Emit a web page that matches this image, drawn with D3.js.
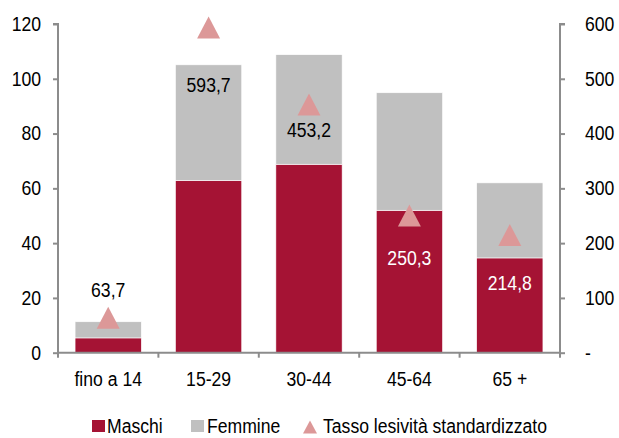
<!DOCTYPE html>
<html>
<head>
<meta charset="utf-8">
<script src="https://cdn.jsdelivr.net/npm/d3@7"></script>
<style>
  body { margin: 0; background: #fff; }
  svg text { font-family: "Liberation Sans", Arial, sans-serif; fill: #000; }
</style>
</head>
<body>
<svg id="chart" width="619" height="438"></svg>
<script>
// age classes and values
var categories = ["fino a 14", "15-29", "30-44", "45-64", "65 +"];
var maschi   = [5.4, 62.9, 68.8, 52.0, 34.6];
var femmine  = [5.9, 42.2, 40.0, 42.9, 27.4];
var tasso    = [63.7, 593.7, 453.2, 250.3, 214.8];
var leftTicks  = [0, 20, 40, 60, 80, 100, 120];
var rightTicks = [0, 100, 200, 300, 400, 500, 600];

var colMaschi = "#a51334", colFemmine = "#c0c0c0", colTasso = "#dc9898", axisCol = "#8c8c8c";
var fontSize = 20, squeezeK = 0.88; // the original font is a narrow one

var svg = d3.select("#chart");
var m = { left: 58, right: 560, top: 24, bottom: 352.7 };

var x = d3.scaleBand().domain(categories).range([m.left, m.right]).paddingInner(0.34).paddingOuter(0.17);
var yL = d3.scaleLinear().domain([0, 120]).range([m.bottom, m.top]);
var yR = d3.scaleLinear().domain([0, 600]).range([m.bottom, m.top]);

// stacked bars
var rows = categories.map(function(c, i) { return { cat: c, m: maschi[i], f: femmine[i] }; });
var stack = d3.stack().keys(["m", "f"])(rows);
var colors = { m: colMaschi, f: colFemmine };

svg.append("g").selectAll("g").data(stack).join("g")
    .attr("fill", function(d) { return colors[d.key]; })
  .selectAll("rect").data(function(d) { return d; }).join("rect")
    .attr("x", function(d) { return x(d.data.cat); })
    .attr("width", x.bandwidth())
    .attr("y", function(d) { return yL(d[1]); })
    .attr("height", function(d) { return yL(d[0]) - yL(d[1]); })
    .attr("stroke", "#fff").attr("stroke-width", 0.6);

// axes
var left = svg.append("g").attr("transform", "translate(" + m.left + ",0)")
    .call(d3.axisLeft(yL).tickValues(leftTicks).tickSize(5).tickPadding(12));
var right = svg.append("g").attr("transform", "translate(" + m.right + ",0)")
    .call(d3.axisRight(yR).tickValues(rightTicks).tickSize(5).tickPadding(20)
      .tickFormat(function(d) { return d === 0 ? "-" : d; }));
var bottom = svg.append("g").attr("transform", "translate(0," + m.bottom + ")")
    .call(d3.axisBottom(x).tickSize(0).tickPadding(19));

// category boundaries as ticks on x axis
var bounds = d3.range(categories.length + 1).map(function(i) { return m.left + i * x.step(); });
bottom.selectAll(".bnd").data(bounds).join("line").attr("class", "bnd")
    .attr("x1", function(d) { return d; }).attr("x2", function(d) { return d; })
    .attr("y1", 0).attr("y2", 5);

[left, right, bottom].forEach(function(g) {
  g.select(".domain").attr("stroke", axisCol).attr("stroke-width", 2);
  g.selectAll("line").attr("stroke", axisCol).attr("stroke-width", 2);
  g.selectAll("text").attr("font-size", fontSize).attr("fill", "#000");
});
left.select(".domain").attr("d", "M-5," + m.top + "H0V" + m.bottom);
right.select(".domain").attr("d", "M5," + m.top + "H0V" + m.bottom);
bottom.select(".domain").attr("d", "M" + m.left + ",0H" + m.right);

// triangles for tasso (a bit taller than equilateral)
function triPath(w, h) { return "M0," + (-h / 2) + "L" + (w / 2) + "," + (h / 2) + "L" + (-w / 2) + "," + (h / 2) + "Z"; }
svg.append("g").selectAll("path").data(tasso).join("path")
    .attr("d", triPath(23, 22))
    .attr("fill", colTasso)
    .attr("transform", function(d, i) {
      return "translate(" + (x(categories[i]) + x.bandwidth() / 2) + "," + yR(d) + ")";
    });

// value labels, placed by hand like the original
var labelDy = [-28, 58, 26, 42, 48];
var labelFill = ["#000", "#000", "#000", "#fff", "#fff"];
svg.append("g").selectAll("text").data(tasso).join("text")
    .attr("x", function(d, i) { return x(categories[i]) + x.bandwidth() / 2; })
    .attr("y", function(d, i) { return yR(d) + labelDy[i]; })
    .attr("dy", "0.35em")
    .attr("text-anchor", "middle")
    .attr("font-size", fontSize)
    .style("fill", function(d, i) { return labelFill[i]; })
    .text(function(d) { return d3.format(".1f")(d).replace(".", ","); });

// legend
var legY = 426;
var leg = svg.append("g").attr("font-size", fontSize);
leg.append("rect").attr("x", 92).attr("y", legY - 6).attr("width", 13).attr("height", 12).attr("fill", colMaschi);
leg.append("text").attr("x", 107).attr("y", legY).attr("dy", "0.35em").text("Maschi");
leg.append("rect").attr("x", 191).attr("y", legY - 6).attr("width", 13).attr("height", 12).attr("fill", colFemmine);
leg.append("text").attr("x", 207).attr("y", legY).attr("dy", "0.35em").text("Femmine");
leg.append("path").attr("d", triPath(14, 13))
    .attr("fill", colTasso).attr("transform", "translate(310," + (legY + 1) + ")");
leg.append("text").attr("x", 323).attr("y", legY).attr("dy", "0.35em").text("Tasso lesività standardizzato");

// squeeze every text horizontally to mimic the narrow font
svg.selectAll("text").each(function() {
  var len = this.getComputedTextLength();
  d3.select(this).attr("textLength", len * squeezeK).attr("lengthAdjust", "spacingAndGlyphs");
});
</script>
</body>
</html>
